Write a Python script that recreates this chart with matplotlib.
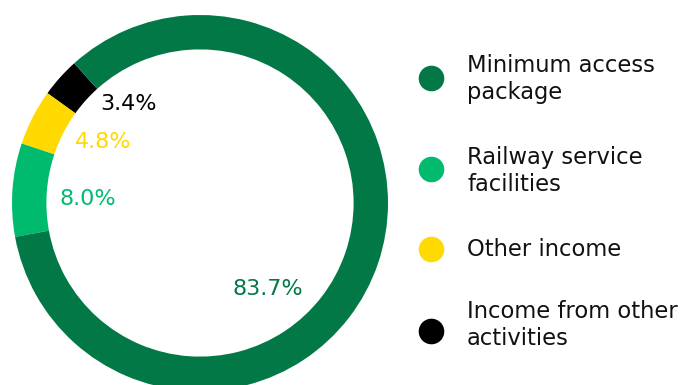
import matplotlib
matplotlib.use('Agg')
import matplotlib.pyplot as plt

# revenue split, counter-clockwise from the black slice
categories = ['Income from other activities', 'Other income',
              'Railway service facilities', 'Minimum access package']
shares = [3.4, 4.8, 8.0, 83.7]
colors = ['#000000', '#FFD900', '#00BB6D', '#037847']
value_labels = ['3.4%', '4.8%', '8.0%', '83.7%']

legend_order = ['Minimum access\npackage', 'Railway service\nfacilities',
                'Other income', 'Income from other\nactivities']
legend_colors = ['#037847', '#00BB6D', '#FFD900', '#000000']

W, H = 687, 385
fig = plt.figure(figsize=(W / 100, H / 100), dpi=100)
ax = fig.add_axes([0, 0, 1, 1])

cx, cy, R = 200, H - 203, 188
ax.pie(shares, colors=colors, startangle=132, counterclock=True,
       center=(cx, cy), radius=R, frame=True,
       wedgeprops=dict(width=R * 0.183, linewidth=0))
ax.set_xlim(0, W)
ax.set_ylim(0, H)
ax.set_aspect('equal')
ax.axis('off')

label_pos = [(128, 104), (103, 142), (88, 199), (268, 289)]
for txt, (x, y), c in zip(value_labels, label_pos, colors):
    ax.text(x, H - y, txt, color=c, fontsize=16, ha='center', va='center',
            family='DejaVu Sans')

dot_y = [78, 169, 249, 331]
text_y = [79, 171, 250, 325]
for lab, c, dy, ty in zip(legend_order, legend_colors, dot_y, text_y):
    ax.scatter([431], [H - dy], s=340, color=c, linewidths=0)
    ax.text(467, H - ty, lab, fontsize=16.3, ha='left', va='center',
            linespacing=1.25, color='#111111', family='DejaVu Sans')

fig.savefig('out.png', dpi=100)
